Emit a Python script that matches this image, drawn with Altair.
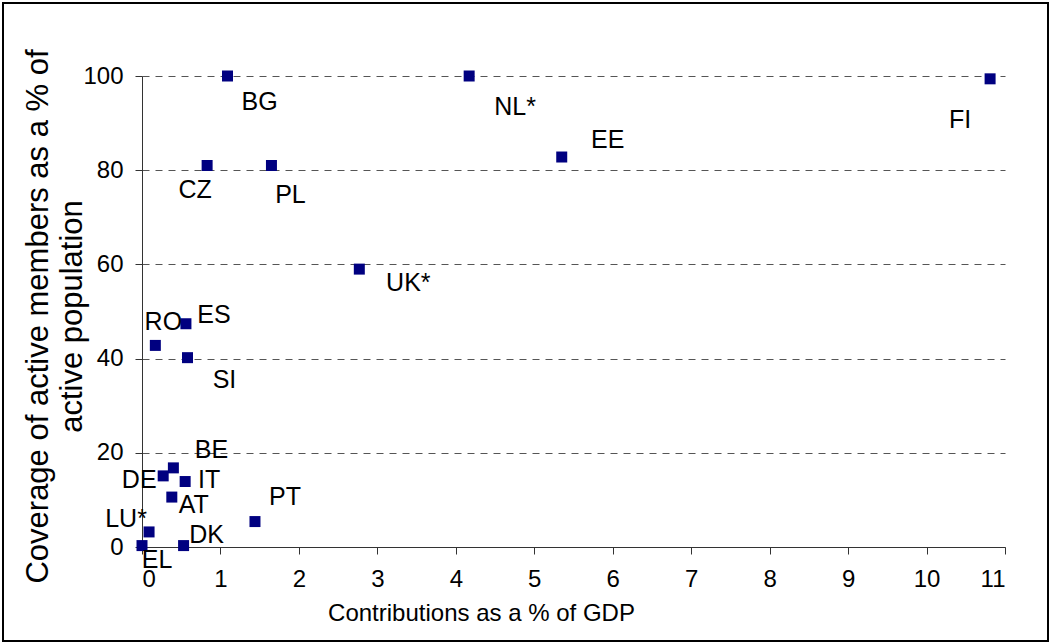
import altair as alt
import pandas as pd

# Occupational pension schemes: contributions vs. coverage, by country
countries = ["EL", "LU*", "DK", "DE", "BE", "IT", "AT", "PT", "ES", "RO", "SI",
             "BG", "CZ", "PL", "NL*", "EE", "FI", "UK*"]
contributions = [0.0, 0.09, 0.53, 0.27, 0.40, 0.55, 0.38, 1.44, 0.56, 0.17, 0.58,
                 1.09, 0.83, 1.65, 4.17, 5.35, 10.81, 2.77]
coverage = [0.3, 3.2, 0.3, 15.1, 16.8, 13.9, 10.6, 5.4, 47.4, 42.8, 40.2,
            100.0, 81.0, 81.0, 100.0, 82.8, 99.4, 59.0]

# label offsets from each marker, in pixels (right, down)
label_dx = [15, -23, 23, -24, 38, 24, 22, 30, 28, 8, 37, 32, -12, 19, 46, 46, -30, 49]
label_dy = [14, -13, -11, 4, -18, -2, 8, -25, -9, -23, 22, 26, 25, 30, 31, -17, 41, 14]

X_MAX, Y_MAX = 11, 100
W, H = 863, 471
FONT = "Liberation Sans"

df = pd.DataFrame({"country": countries, "x": contributions, "y": coverage})
df["lx"] = df["x"] + pd.Series(label_dx) * X_MAX / W
df["ly"] = df["y"] - pd.Series(label_dy) * Y_MAX / H

x_scale = alt.Scale(domain=[0, X_MAX], nice=False, zero=True)
y_scale = alt.Scale(domain=[0, Y_MAX], nice=False, zero=True)

x_axis = alt.Axis(
    title="Contributions as a % of GDP", values=list(range(0, 12)), format="d",
    grid=False, domainColor="#333333", tickColor="#333333", tickSize=7,
    labelPadding=13, labelFont=FONT, labelFontSize=24, labelColor="black",
    titleFont=FONT, titleFontSize=24, titleFontWeight="normal", titleColor="black",
    titleX=339, titleY=66, titleAlign="center", titleBaseline="middle",
)
y_axis = alt.Axis(
    title=["Coverage of active members as a % of", "active population"],
    values=[0, 20, 40, 60, 80, 100], format="d",
    grid=True, gridDash=[7, 6], gridColor="#555555",
    domainColor="#333333", tickColor="#333333", tickSize=7, labelPadding=12,
    labelFont=FONT, labelFontSize=24, labelColor="black",
    titleFont=FONT, titleFontSize=31, titleFontWeight="normal", titleColor="black",
    titleAngle=270, titleX=-104, titleY=240, titleAlign="center",
    titleBaseline="middle", titleLineHeight=34,
)

points = alt.Chart(df).mark_point(
    shape="square", filled=True, size=121, color="#000080", opacity=1
).encode(
    x=alt.X("x:Q", scale=x_scale, axis=x_axis),
    y=alt.Y("y:Q", scale=y_scale, axis=y_axis),
)

labels = alt.Chart(df).mark_text(
    font=FONT, fontSize=25, color="black", align="center", baseline="middle"
).encode(
    x=alt.X("lx:Q", scale=x_scale),
    y=alt.Y("ly:Q", scale=y_scale),
    text="country:N",
)

frame = alt.Chart(pd.DataFrame({"k": [0]})).mark_rect(
    filled=False, stroke="black", strokeWidth=2
).encode(
    x=alt.value(-139), x2=alt.value(906), y=alt.value(-73), y2=alt.value(565)
)

chart = alt.layer(points, labels, frame).properties(
    width=W, height=H,
    autosize=alt.AutoSizeParams(type="none"),
    padding={"left": 142, "top": 76, "right": 46, "bottom": 97},
    background="white",
).configure_view(stroke=None)

chart.save("out.html", embed_options={"renderer": "svg", "actions": False})
